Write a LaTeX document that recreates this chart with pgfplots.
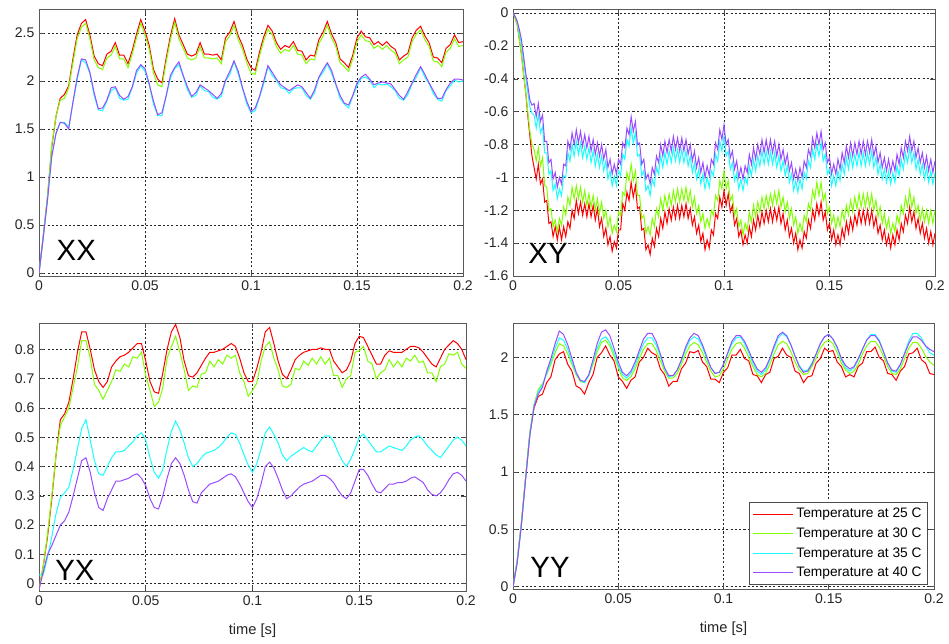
\documentclass[border=0pt]{standalone}
\usepackage{fontspec}
\setmainfont{Liberation Sans}
\usepackage{pgfplots}
\usepackage{pgfplotstable}
\pgfplotsset{compat=1.18}

\definecolor{c25}{rgb}{1,0,0}
\definecolor{c30}{rgb}{0.5,1,0}
\definecolor{c35}{rgb}{0.1,1,1}
\definecolor{c40}{rgb}{0.6,0.3,1}

\pgfplotstableread{
t r g c p
0.000 0 0 0 0
0.002 0.38 0.39 0.38 0.37
0.004 0.79 0.80 0.77 0.76
0.006 1.31 1.33 1.22 1.21
0.008 1.63 1.63 1.46 1.45
0.010 1.82 1.80 1.57 1.57
0.012 1.86 1.82 1.57 1.56
0.014 1.95 1.93 1.52 1.50
0.016 2.23 2.19 1.77 1.78
0.018 2.48 2.44 2.01 2.04
0.020 2.60 2.56 2.22 2.23
0.022 2.64 2.60 2.19 2.22
0.024 2.48 2.44 2.08 2.09
0.026 2.26 2.22 1.85 1.88
0.028 2.18 2.14 1.70 1.71
0.030 2.16 2.12 1.69 1.72
0.032 2.28 2.24 1.79 1.80
0.034 2.31 2.27 1.90 1.93
0.036 2.40 2.36 1.93 1.94
0.038 2.27 2.23 1.82 1.85
0.040 2.27 2.23 1.80 1.81
0.042 2.18 2.14 1.81 1.84
0.044 2.32 2.28 1.93 1.94
0.046 2.49 2.45 2.08 2.11
0.048 2.64 2.60 2.16 2.17
0.050 2.52 2.48 2.10 2.13
0.052 2.37 2.33 1.96 1.97
0.054 2.12 2.08 1.76 1.79
0.056 2.02 1.96 1.64 1.65
0.058 1.98 1.94 1.64 1.67
0.060 2.24 2.20 1.84 1.85
0.062 2.47 2.43 2.03 2.06
0.064 2.65 2.61 2.13 2.14
0.066 2.48 2.44 2.17 2.20
0.068 2.38 2.34 2.05 2.06
0.070 2.28 2.24 1.91 1.94
0.072 2.26 2.22 1.83 1.84
0.074 2.28 2.24 1.85 1.88
0.076 2.40 2.36 1.95 1.96
0.078 2.28 2.24 1.90 1.93
0.080 2.28 2.24 1.89 1.90
0.082 2.27 2.23 1.83 1.86
0.084 2.28 2.24 1.81 1.82
0.086 2.22 2.18 1.84 1.87
0.088 2.45 2.41 2.00 2.01
0.090 2.51 2.47 2.07 2.10
0.092 2.62 2.58 2.20 2.21
0.094 2.47 2.43 2.07 2.10
0.096 2.37 2.33 1.92 1.93
0.098 2.23 2.19 1.76 1.79
0.100 2.14 2.08 1.67 1.68
0.102 2.11 2.07 1.69 1.72
0.104 2.30 2.26 1.83 1.84
0.106 2.46 2.42 1.97 2.00
0.108 2.58 2.54 2.15 2.16
0.110 2.52 2.48 2.06 2.09
0.112 2.40 2.36 2.01 2.02
0.114 2.33 2.29 1.93 1.96
0.116 2.37 2.33 1.92 1.93
0.118 2.35 2.31 1.87 1.90
0.120 2.41 2.37 1.92 1.93
0.122 2.32 2.28 1.93 1.96
0.124 2.31 2.27 1.93 1.94
0.126 2.22 2.18 1.85 1.88
0.128 2.27 2.23 1.81 1.82
0.130 2.26 2.22 1.88 1.91
0.132 2.43 2.39 2.03 2.04
0.134 2.51 2.47 2.09 2.12
0.136 2.62 2.58 2.18 2.19
0.138 2.49 2.45 2.08 2.11
0.140 2.40 2.36 1.96 1.97
0.142 2.23 2.19 1.82 1.85
0.144 2.19 2.15 1.76 1.77
0.146 2.14 2.10 1.72 1.75
0.148 2.27 2.23 1.84 1.85
0.150 2.45 2.41 1.95 1.98
0.152 2.52 2.48 2.03 2.04
0.154 2.46 2.42 2.04 2.07
0.156 2.45 2.41 2.01 2.02
0.158 2.38 2.34 1.93 1.96
0.160 2.41 2.37 1.97 1.98
0.162 2.37 2.33 1.96 1.99
0.164 2.41 2.37 1.97 1.98
0.166 2.36 2.32 1.94 1.97
0.168 2.33 2.29 1.90 1.91
0.170 2.22 2.18 1.82 1.85
0.172 2.26 2.22 1.80 1.81
0.174 2.29 2.25 1.86 1.89
0.176 2.45 2.41 1.97 1.98
0.178 2.53 2.49 2.04 2.07
0.180 2.57 2.53 2.14 2.15
0.182 2.47 2.43 2.04 2.07
0.184 2.40 2.36 1.97 1.98
0.186 2.25 2.21 1.87 1.90
0.188 2.24 2.20 1.81 1.82
0.190 2.19 2.15 1.79 1.82
0.192 2.34 2.30 1.90 1.91
0.194 2.38 2.34 1.95 1.98
0.196 2.48 2.44 2.01 2.02
0.198 2.40 2.36 1.99 2.02
0.200 2.41 2.37 2.00 2.01
}\tabXX

\pgfplotstableread{
t r g c p
0.000 0 0 0 0
0.001 -0.03 -0.03 -0.02 -0.02
0.002 -0.07 -0.07 -0.05 -0.05
0.003 -0.16 -0.16 -0.12 -0.10
0.004 -0.25 -0.25 -0.19 -0.16
0.005 -0.37 -0.37 -0.29 -0.26
0.006 -0.48 -0.48 -0.39 -0.36
0.007 -0.62 -0.60 -0.48 -0.44
0.008 -0.75 -0.72 -0.57 -0.53
0.009 -0.87 -0.80 -0.61 -0.56
0.010 -0.94 -0.83 -0.62 -0.55
0.011 -1.01 -0.90 -0.70 -0.63
0.012 -0.92 -0.82 -0.62 -0.55
0.013 -1.04 -0.93 -0.73 -0.66
0.014 -1.01 -0.88 -0.69 -0.62
0.015 -1.15 -1.05 -0.85 -0.78
0.016 -1.14 -1.06 -0.85 -0.78
0.017 -1.28 -1.20 -0.98 -0.91
0.018 -1.27 -1.19 -0.96 -0.89
0.019 -1.36 -1.30 -1.08 -1.01
0.020 -1.30 -1.26 -1.04 -0.97
0.021 -1.38 -1.33 -1.13 -1.06
0.022 -1.30 -1.25 -1.07 -1.00
0.023 -1.38 -1.29 -1.11 -1.04
0.024 -1.30 -1.18 -0.99 -0.92
0.025 -1.36 -1.23 -1.00 -0.93
0.026 -1.27 -1.12 -0.85 -0.78
0.027 -1.31 -1.17 -0.90 -0.83
0.028 -1.20 -1.06 -0.80 -0.73
0.029 -1.25 -1.13 -0.87 -0.80
0.030 -1.14 -1.05 -0.78 -0.71
0.031 -1.22 -1.13 -0.86 -0.79
0.032 -1.15 -1.06 -0.79 -0.72
0.033 -1.23 -1.15 -0.88 -0.81
0.034 -1.16 -1.08 -0.81 -0.74
0.035 -1.24 -1.17 -0.89 -0.82
0.036 -1.16 -1.10 -0.82 -0.75
0.037 -1.24 -1.18 -0.91 -0.84
0.038 -1.17 -1.11 -0.84 -0.77
0.039 -1.26 -1.20 -0.93 -0.86
0.040 -1.19 -1.13 -0.86 -0.79
0.041 -1.30 -1.22 -0.94 -0.87
0.042 -1.25 -1.15 -0.87 -0.80
0.043 -1.36 -1.25 -0.96 -0.89
0.044 -1.31 -1.20 -0.90 -0.83
0.045 -1.41 -1.30 -1.01 -0.94
0.046 -1.36 -1.24 -0.96 -0.89
0.047 -1.45 -1.34 -1.05 -0.98
0.048 -1.39 -1.29 -0.99 -0.92
0.049 -1.43 -1.33 -1.05 -0.98
0.050 -1.32 -1.21 -0.96 -0.89
0.051 -1.32 -1.23 -0.99 -0.92
0.052 -1.16 -1.09 -0.86 -0.79
0.053 -1.20 -1.11 -0.89 -0.82
0.054 -1.09 -0.97 -0.77 -0.70
0.055 -1.14 -1.02 -0.81 -0.74
0.056 -1.03 -0.92 -0.70 -0.63
0.057 -1.12 -1.02 -0.79 -0.72
0.058 -1.05 -0.96 -0.73 -0.66
0.059 -1.19 -1.11 -0.87 -0.80
0.060 -1.18 -1.11 -0.86 -0.79
0.061 -1.32 -1.25 -0.99 -0.92
0.062 -1.31 -1.23 -0.96 -0.89
0.063 -1.44 -1.34 -1.08 -1.01
0.064 -1.41 -1.30 -1.05 -0.98
0.065 -1.47 -1.35 -1.11 -1.04
0.066 -1.37 -1.25 -1.01 -0.94
0.067 -1.42 -1.30 -1.05 -0.98
0.068 -1.31 -1.19 -0.94 -0.87
0.069 -1.36 -1.24 -0.98 -0.91
0.070 -1.25 -1.13 -0.87 -0.80
0.071 -1.31 -1.20 -0.94 -0.87
0.072 -1.21 -1.11 -0.85 -0.78
0.073 -1.28 -1.18 -0.92 -0.85
0.074 -1.19 -1.10 -0.84 -0.77
0.075 -1.26 -1.17 -0.91 -0.84
0.076 -1.18 -1.08 -0.82 -0.75
0.077 -1.25 -1.15 -0.90 -0.83
0.078 -1.17 -1.07 -0.83 -0.76
0.079 -1.25 -1.15 -0.91 -0.84
0.080 -1.17 -1.07 -0.83 -0.76
0.081 -1.24 -1.14 -0.91 -0.84
0.082 -1.16 -1.06 -0.84 -0.77
0.083 -1.25 -1.15 -0.93 -0.86
0.084 -1.19 -1.08 -0.87 -0.80
0.085 -1.29 -1.18 -0.97 -0.90
0.086 -1.24 -1.12 -0.91 -0.84
0.087 -1.34 -1.22 -1.01 -0.94
0.088 -1.29 -1.17 -0.95 -0.88
0.089 -1.39 -1.27 -1.04 -0.97
0.090 -1.34 -1.22 -0.98 -0.91
0.091 -1.44 -1.31 -1.07 -1.00
0.092 -1.38 -1.25 -1.00 -0.93
0.093 -1.43 -1.30 -1.06 -0.99
0.094 -1.32 -1.20 -0.96 -0.89
0.095 -1.35 -1.23 -0.99 -0.92
0.096 -1.22 -1.11 -0.86 -0.79
0.097 -1.25 -1.14 -0.90 -0.83
0.098 -1.12 -1.02 -0.78 -0.71
0.099 -1.18 -1.07 -0.84 -0.77
0.100 -1.08 -0.96 -0.75 -0.68
0.101 -1.17 -1.07 -0.87 -0.80
0.102 -1.10 -1.02 -0.84 -0.77
0.103 -1.21 -1.14 -0.95 -0.88
0.104 -1.17 -1.11 -0.91 -0.84
0.105 -1.29 -1.23 -1.02 -0.95
0.106 -1.25 -1.19 -0.97 -0.90
0.107 -1.36 -1.30 -1.07 -1.00
0.108 -1.32 -1.26 -1.01 -0.94
0.109 -1.41 -1.35 -1.08 -1.01
0.110 -1.35 -1.28 -1.00 -0.93
0.111 -1.40 -1.32 -1.04 -0.97
0.112 -1.30 -1.21 -0.93 -0.86
0.113 -1.36 -1.27 -0.99 -0.92
0.114 -1.26 -1.17 -0.89 -0.82
0.115 -1.32 -1.24 -0.96 -0.89
0.116 -1.23 -1.15 -0.87 -0.80
0.117 -1.30 -1.21 -0.93 -0.86
0.118 -1.21 -1.12 -0.84 -0.77
0.119 -1.28 -1.19 -0.92 -0.85
0.120 -1.20 -1.11 -0.84 -0.77
0.121 -1.27 -1.18 -0.92 -0.85
0.122 -1.19 -1.10 -0.84 -0.77
0.123 -1.27 -1.17 -0.92 -0.85
0.124 -1.19 -1.09 -0.85 -0.78
0.125 -1.26 -1.16 -0.94 -0.87
0.126 -1.18 -1.08 -0.87 -0.80
0.127 -1.28 -1.18 -0.96 -0.89
0.128 -1.22 -1.12 -0.90 -0.83
0.129 -1.32 -1.21 -0.99 -0.92
0.130 -1.26 -1.15 -0.93 -0.86
0.131 -1.36 -1.25 -1.03 -0.96
0.132 -1.31 -1.19 -0.98 -0.91
0.133 -1.40 -1.29 -1.08 -1.01
0.134 -1.34 -1.24 -1.02 -0.95
0.135 -1.44 -1.34 -1.09 -1.02
0.136 -1.38 -1.28 -1.01 -0.94
0.137 -1.43 -1.33 -1.07 -1.00
0.138 -1.33 -1.23 -0.97 -0.90
0.139 -1.37 -1.27 -1.01 -0.94
0.140 -1.26 -1.16 -0.90 -0.83
0.141 -1.31 -1.20 -0.94 -0.87
0.142 -1.20 -1.08 -0.83 -0.76
0.143 -1.26 -1.13 -0.89 -0.82
0.144 -1.16 -1.03 -0.80 -0.73
0.145 -1.23 -1.11 -0.87 -0.80
0.146 -1.15 -1.03 -0.79 -0.72
0.147 -1.26 -1.14 -0.90 -0.83
0.148 -1.21 -1.10 -0.86 -0.79
0.149 -1.32 -1.22 -0.98 -0.91
0.150 -1.28 -1.18 -0.95 -0.88
0.151 -1.38 -1.28 -1.05 -0.98
0.152 -1.32 -1.23 -0.99 -0.92
0.153 -1.41 -1.31 -1.05 -0.98
0.154 -1.35 -1.24 -0.96 -0.89
0.155 -1.41 -1.30 -1.02 -0.95
0.156 -1.31 -1.20 -0.92 -0.85
0.157 -1.37 -1.26 -0.98 -0.91
0.158 -1.27 -1.17 -0.88 -0.81
0.159 -1.34 -1.23 -0.95 -0.88
0.160 -1.25 -1.14 -0.86 -0.79
0.161 -1.32 -1.21 -0.94 -0.87
0.162 -1.23 -1.12 -0.86 -0.79
0.163 -1.29 -1.19 -0.93 -0.86
0.164 -1.20 -1.10 -0.85 -0.78
0.165 -1.28 -1.18 -0.93 -0.86
0.166 -1.20 -1.10 -0.85 -0.78
0.167 -1.28 -1.18 -0.93 -0.86
0.168 -1.20 -1.10 -0.85 -0.78
0.169 -1.28 -1.18 -0.92 -0.85
0.170 -1.20 -1.10 -0.84 -0.77
0.171 -1.30 -1.20 -0.94 -0.87
0.172 -1.24 -1.14 -0.88 -0.81
0.173 -1.34 -1.24 -0.98 -0.91
0.174 -1.29 -1.18 -0.92 -0.85
0.175 -1.38 -1.28 -1.01 -0.94
0.176 -1.32 -1.22 -0.95 -0.88
0.177 -1.41 -1.31 -1.03 -0.96
0.178 -1.35 -1.25 -0.96 -0.89
0.179 -1.43 -1.34 -1.04 -0.97
0.180 -1.35 -1.28 -0.97 -0.90
0.181 -1.41 -1.33 -1.03 -0.96
0.182 -1.32 -1.23 -0.93 -0.86
0.183 -1.38 -1.28 -0.99 -0.92
0.184 -1.28 -1.17 -0.89 -0.82
0.185 -1.33 -1.22 -0.95 -0.88
0.186 -1.23 -1.12 -0.85 -0.78
0.187 -1.28 -1.18 -0.91 -0.84
0.188 -1.18 -1.08 -0.82 -0.75
0.189 -1.27 -1.18 -0.91 -0.84
0.190 -1.21 -1.12 -0.85 -0.78
0.191 -1.31 -1.22 -0.95 -0.88
0.192 -1.25 -1.17 -0.89 -0.82
0.193 -1.34 -1.26 -0.98 -0.91
0.194 -1.28 -1.19 -0.92 -0.85
0.195 -1.37 -1.27 -1.01 -0.94
0.196 -1.31 -1.20 -0.94 -0.87
0.197 -1.40 -1.28 -1.03 -0.96
0.198 -1.33 -1.20 -0.96 -0.89
0.199 -1.41 -1.28 -1.04 -0.97
0.200 -1.34 -1.20 -0.97 -0.90
}\tabXY

\pgfplotstableread{
t r g c p
0.000 -0.02 -0.02 0.03 -0.02
0.002 0.06 0.06 0.03 0.04
0.004 0.16 0.17 0.09 0.10
0.006 0.29 0.30 0.16 0.13
0.008 0.44 0.44 0.24 0.165
0.010 0.56 0.54 0.295 0.20
0.012 0.58 0.57 0.31 0.215
0.014 0.62 0.60 0.33 0.245
0.016 0.70 0.67 0.39 0.30
0.018 0.79 0.74 0.46 0.36
0.020 0.86 0.83 0.53 0.42
0.022 0.86 0.83 0.56 0.43
0.024 0.80 0.77 0.49 0.38
0.026 0.73 0.68 0.42 0.31
0.028 0.69 0.66 0.375 0.26
0.030 0.67 0.63 0.37 0.25
0.032 0.69 0.66 0.40 0.29
0.034 0.74 0.69 0.43 0.32
0.036 0.76 0.73 0.45 0.35
0.038 0.775 0.725 0.45 0.35
0.040 0.78 0.75 0.455 0.355
0.042 0.79 0.74 0.47 0.36
0.044 0.805 0.775 0.485 0.37
0.046 0.82 0.77 0.505 0.375
0.048 0.82 0.79 0.515 0.36
0.050 0.76 0.71 0.49 0.335
0.052 0.69 0.66 0.43 0.29
0.054 0.655 0.605 0.38 0.26
0.056 0.65 0.62 0.36 0.255
0.058 0.72 0.67 0.39 0.30
0.060 0.80 0.77 0.46 0.36
0.062 0.86 0.81 0.52 0.41
0.064 0.885 0.845 0.555 0.43
0.066 0.84 0.79 0.525 0.41
0.068 0.76 0.73 0.48 0.37
0.070 0.71 0.66 0.43 0.32
0.072 0.705 0.675 0.40 0.28
0.074 0.72 0.67 0.41 0.275
0.076 0.745 0.715 0.43 0.31
0.078 0.77 0.72 0.445 0.325
0.080 0.79 0.76 0.45 0.34
0.082 0.79 0.74 0.455 0.345
0.084 0.795 0.765 0.465 0.35
0.086 0.80 0.75 0.48 0.36
0.088 0.81 0.78 0.50 0.37
0.090 0.82 0.77 0.515 0.375
0.092 0.81 0.78 0.51 0.365
0.094 0.77 0.72 0.48 0.34
0.096 0.72 0.69 0.44 0.31
0.098 0.69 0.64 0.405 0.28
0.100 0.69 0.66 0.38 0.26
0.102 0.735 0.685 0.41 0.29
0.104 0.79 0.76 0.46 0.34
0.106 0.86 0.81 0.515 0.40
0.108 0.875 0.825 0.535 0.415
0.110 0.82 0.77 0.51 0.395
0.112 0.76 0.73 0.48 0.36
0.114 0.715 0.675 0.44 0.32
0.116 0.70 0.67 0.42 0.29
0.118 0.73 0.68 0.435 0.30
0.120 0.765 0.735 0.445 0.315
0.122 0.78 0.73 0.455 0.33
0.124 0.79 0.76 0.465 0.34
0.126 0.795 0.745 0.455 0.345
0.128 0.80 0.77 0.45 0.35
0.130 0.80 0.75 0.47 0.36
0.132 0.805 0.775 0.49 0.37
0.134 0.80 0.75 0.505 0.37
0.136 0.80 0.77 0.505 0.36
0.138 0.76 0.71 0.485 0.345
0.140 0.74 0.71 0.45 0.32
0.142 0.72 0.67 0.42 0.30
0.144 0.73 0.70 0.40 0.29
0.146 0.76 0.71 0.425 0.31
0.148 0.82 0.79 0.46 0.35
0.150 0.845 0.795 0.50 0.39
0.152 0.84 0.81 0.51 0.39
0.154 0.81 0.76 0.49 0.37
0.156 0.78 0.75 0.47 0.34
0.158 0.75 0.70 0.45 0.315
0.160 0.75 0.72 0.45 0.31
0.162 0.78 0.73 0.46 0.325
0.164 0.795 0.765 0.47 0.34
0.166 0.79 0.74 0.465 0.34
0.168 0.79 0.76 0.46 0.345
0.170 0.79 0.74 0.455 0.345
0.172 0.80 0.77 0.47 0.35
0.174 0.81 0.76 0.49 0.36
0.176 0.81 0.78 0.50 0.365
0.178 0.805 0.755 0.505 0.355
0.180 0.79 0.76 0.49 0.345
0.182 0.77 0.72 0.47 0.32
0.184 0.75 0.72 0.455 0.305
0.186 0.74 0.69 0.44 0.30
0.188 0.77 0.74 0.43 0.31
0.190 0.80 0.75 0.45 0.33
0.192 0.815 0.785 0.47 0.355
0.194 0.83 0.78 0.49 0.375
0.196 0.82 0.79 0.50 0.38
0.198 0.80 0.75 0.49 0.37
0.200 0.765 0.735 0.47 0.35
}\tabYX

\pgfplotstableread{
t r g c p
0.000 0 0 0 0
0.002 0.22 0.24 0.22 0.21
0.004 0.55 0.57 0.55 0.54
0.006 0.95 0.97 0.95 0.94
0.008 1.33 1.35 1.33 1.32
0.010 1.56 1.59 1.58 1.57
0.012 1.66 1.72 1.70 1.68
0.014 1.68 1.77 1.76 1.74
0.016 1.78 1.85 1.86 1.88
0.018 1.83 1.94 1.96 1.99
0.020 1.98 2.04 2.08 2.12
0.022 2.03 2.12 2.17 2.23
0.024 2.05 2.10 2.15 2.20
0.026 1.94 2.03 2.07 2.11
0.028 1.88 1.94 1.96 1.99
0.030 1.75 1.85 1.86 1.87
0.032 1.73 1.79 1.80 1.80
0.034 1.68 1.78 1.78 1.79
0.036 1.78 1.84 1.84 1.85
0.038 1.85 1.94 1.96 1.98
0.040 2.00 2.05 2.08 2.12
0.042 2.04 2.13 2.16 2.22
0.044 2.10 2.15 2.18 2.24
0.046 2.02 2.10 2.13 2.19
0.048 1.97 2.01 2.04 2.08
0.050 1.83 1.91 1.93 1.96
0.052 1.79 1.82 1.85 1.87
0.054 1.73 1.80 1.82 1.84
0.056 1.80 1.83 1.86 1.88
0.058 1.83 1.90 1.93 1.96
0.060 1.96 1.99 2.03 2.06
0.062 2.00 2.07 2.12 2.16
0.064 2.08 2.12 2.17 2.21
0.066 2.04 2.12 2.17 2.21
0.068 2.02 2.06 2.11 2.14
0.070 1.90 1.97 2.01 2.03
0.072 1.85 1.88 1.90 1.91
0.074 1.75 1.82 1.83 1.84
0.076 1.79 1.82 1.84 1.84
0.078 1.79 1.86 1.89 1.89
0.080 1.90 1.94 1.97 1.98
0.082 1.95 2.03 2.07 2.09
0.084 2.05 2.10 2.15 2.17
0.086 2.04 2.13 2.18 2.21
0.088 2.06 2.11 2.16 2.19
0.090 1.96 2.04 2.09 2.11
0.092 1.92 1.96 1.99 2.01
0.094 1.81 1.88 1.91 1.91
0.096 1.81 1.83 1.86 1.86
0.098 1.78 1.84 1.87 1.87
0.100 1.87 1.90 1.94 1.94
0.102 1.91 1.99 2.03 2.04
0.104 2.02 2.07 2.12 2.14
0.106 2.02 2.12 2.17 2.19
0.108 2.07 2.13 2.18 2.19
0.110 1.99 2.08 2.12 2.14
0.112 1.97 2.00 2.04 2.06
0.114 1.85 1.92 1.95 1.97
0.116 1.84 1.85 1.88 1.90
0.118 1.78 1.83 1.85 1.87
0.120 1.85 1.86 1.89 1.91
0.122 1.87 1.94 1.98 1.99
0.124 1.99 2.03 2.08 2.10
0.126 2.01 2.11 2.17 2.19
0.128 2.08 2.14 2.21 2.22
0.130 2.02 2.12 2.18 2.19
0.132 2.00 2.05 2.11 2.11
0.134 1.88 1.96 2.01 2.01
0.136 1.86 1.89 1.93 1.92
0.138 1.78 1.85 1.88 1.87
0.140 1.83 1.86 1.89 1.88
0.142 1.84 1.92 1.95 1.94
0.144 1.95 1.99 2.03 2.03
0.146 1.99 2.08 2.12 2.12
0.148 2.08 2.13 2.18 2.18
0.150 2.05 2.15 2.20 2.20
0.152 2.06 2.12 2.16 2.16
0.154 1.96 2.04 2.08 2.09
0.156 1.92 1.95 1.98 1.99
0.158 1.83 1.89 1.91 1.93
0.160 1.85 1.86 1.88 1.90
0.162 1.83 1.88 1.91 1.92
0.164 1.92 1.94 1.98 1.99
0.166 1.95 2.03 2.07 2.07
0.168 2.05 2.10 2.15 2.15
0.170 2.05 2.14 2.20 2.19
0.172 2.09 2.14 2.20 2.19
0.174 2.00 2.09 2.15 2.14
0.176 1.97 2.01 2.05 2.05
0.178 1.86 1.92 1.95 1.95
0.180 1.85 1.86 1.88 1.89
0.182 1.80 1.85 1.87 1.88
0.184 1.88 1.90 1.93 1.94
0.186 1.92 1.99 2.04 2.03
0.188 2.03 2.08 2.14 2.12
0.190 2.04 2.13 2.21 2.18
0.192 2.08 2.13 2.21 2.18
0.194 1.98 2.08 2.17 2.15
0.196 1.95 2.01 2.10 2.10
0.198 1.86 1.96 2.04 2.07
0.200 1.85 1.93 2.02 2.05
}\tabYY

\pgfplotsset{
  mstyle/.style={
    scale only axis,
    xmin=0, xmax=0.2,
    xtick={0,0.05,0.1,0.15,0.2},
    xticklabels={0,0.05,0.1,0.15,0.2},
    grid=major,
    grid style={black!85, line width=0.5pt, dash pattern=on 1.6pt off 1.6pt},
    axis line style={black!65, line width=0.6pt},
    tick style={black!70, line width=0.45pt},
    tick align=inside,
    major tick length=3.5pt,
    ticklabel style={font=\fontsize{10.5}{12}\selectfont, text=black!85},
    every axis plot/.append style={line width=0.75pt, no markers},
    xlabel style={font=\fontsize{11}{13}\selectfont, text=black!85, at={(axis description cs:0.5,0)}, anchor=center, yshift=-29.5pt},
  },
}
\tikzset{bigl/.style={font=\fontsize{22}{24}\selectfont, anchor=center, inner sep=0pt}}

\begin{document}
\begin{tikzpicture}
\useasboundingbox (0,0) rectangle (711.75pt,482.25pt);

% XX
\begin{axis}[mstyle, at={(29.25pt,275.25pt)}, anchor=south west,
  width=318pt, height=200.25pt, ymin=-0.03, ymax=2.75,
  ytick={0,0.5,1,1.5,2,2.5}, yticklabels={0,0.5,1,1.5,2,2.5}]
\addplot[draw=c25] table[x=t,y=r]{\tabXX};
\addplot[draw=c30] table[x=t,y=g]{\tabXX};
\addplot[draw=c35] table[x=t,y=c]{\tabXX};
\addplot[draw=c40] table[x=t,y=p]{\tabXX};
\node[bigl] at (axis description cs:0.088,0.094) {XX};
\end{axis}

% XY
\begin{axis}[mstyle, at={(384.75pt,275.25pt)}, anchor=south west,
  width=316.5pt, height=200.25pt, ymin=-1.6, ymax=0.025,
  ytick={-1.6,-1.4,-1.2,-1,-0.8,-0.6,-0.4,-0.2,0},
  yticklabels={-1.6,-1.4,-1.2,-1,-0.8,-0.6,-0.4,-0.2,0}]
\addplot[draw=c25] table[x=t,y=r]{\tabXY};
\addplot[draw=c30] table[x=t,y=g]{\tabXY};
\addplot[draw=c35] table[x=t,y=c]{\tabXY};
\addplot[draw=c40] table[x=t,y=p]{\tabXY};
\node[bigl] at (axis description cs:0.083,0.086) {XY};
\end{axis}

% YX
\begin{axis}[mstyle, at={(29.25pt,39pt)}, anchor=south west,
  width=320.25pt, height=201pt, ymin=-0.025, ymax=0.89,
  ytick={0,0.1,0.2,0.3,0.4,0.5,0.6,0.7,0.8},
  yticklabels={0,0.1,0.2,0.3,0.4,0.5,0.6,0.7,0.8},
  xlabel={time [s]}]
\addplot[draw=c25] table[x=t,y=r]{\tabYX};
\addplot[draw=c30] table[x=t,y=g]{\tabYX};
\addplot[draw=c35] table[x=t,y=c]{\tabYX};
\addplot[draw=c40] table[x=t,y=p]{\tabYX};
\node[bigl] at (axis description cs:0.084,0.075) {YX};
\end{axis}

% YY
\begin{axis}[mstyle, at={(384.75pt,40.5pt)}, anchor=south west,
  width=315.75pt, height=199.5pt, ymin=-0.02, ymax=2.3,
  ytick={0,0.5,1,1.5,2}, yticklabels={0,0.5,1,1.5,2},
  xlabel={time [s]},
  legend cell align=left,
  legend image code/.code={\draw[#1] (0pt,0pt) -- (30pt,0pt);},
  legend style={at={(1,0)}, anchor=south east, xshift=-4.5pt, yshift=3pt,
    draw=black!70, fill=white, line width=0.6pt,
    font=\fontsize{10.3}{12}\selectfont, inner sep=2.5pt, row sep=2pt}]
\addplot[draw=c25] table[x=t,y=r]{\tabYY};
\addplot[draw=c30] table[x=t,y=g]{\tabYY};
\addplot[draw=c35] table[x=t,y=c]{\tabYY};
\addplot[draw=c40] table[x=t,y=p]{\tabYY};
\legend{Temperature at 25 C,Temperature at 30 C,Temperature at 35 C,Temperature at 40 C}
\node[bigl] at (axis description cs:0.088,0.083) {YY};
\end{axis}
\end{tikzpicture}
\end{document}
